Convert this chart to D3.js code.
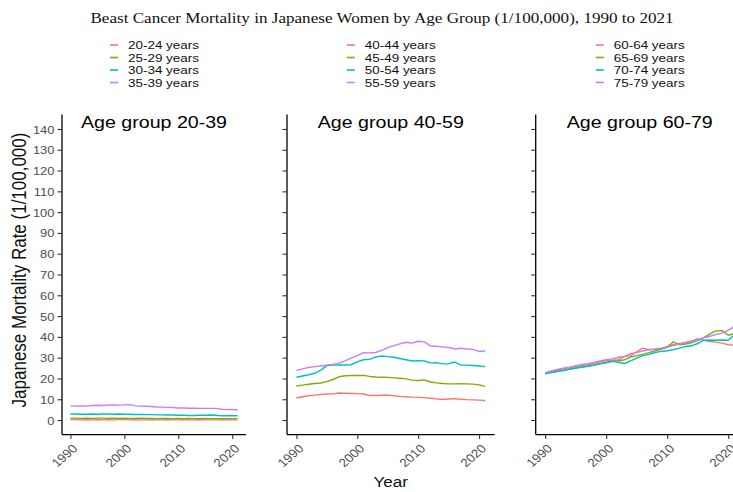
<!DOCTYPE html>
<html>
<head>
<meta charset="utf-8">
<script src="https://cdn.jsdelivr.net/npm/d3@7/dist/d3.min.js"></script>
<style>
html,body{margin:0;padding:0;background:#fff;}
svg{display:block;}
</style>
</head>
<body>
<svg id="chart" width="733" height="492"></svg>
<script>
// ---------------- DATA ----------------
const years = [1990,1991,1992,1993,1994,1995,1996,1997,1998,1999,2000,2001,2002,2003,2004,2005,
               2006,2007,2008,2009,2010,2011,2012,2013,2014,2015,2016,2017,2018,2019,2020,2021];

const chartTitle = "Beast Cancer Mortality in Japanese Women by Age Group (1/100,000), 1990 to 2021";
const panelTitles = ["Age group 20-39", "Age group 40-59", "Age group 60-79"];
const yAxisTitle = "Japanese Mortality Rate (1/100,000)";
const xAxisTitle = "Year";
const yTicks = [0,10,20,30,40,50,60,70,80,90,100,110,120,130,140];
const xTicks = [1990,2000,2010,2020];
const seriesColors = ["#F8766D","#7CAE00","#00BFC4","#C77CFF"];

// Age group 20-39
const labels20_39 = ["20-24 years","25-29 years","30-34 years","35-39 years"];
const s20_24 = [0.2,0.2,0.1,0.2,0.1,0.2,0.1,0.2,0.1,0.2,0.2,0.1,0.2,0.1,0.1,0.2,0.1,0.1,0.2,0.1,0.1,0.2,0.1,0.1,0.2,0.1,0.1,0.1,0.2,0.1,0.1,0.1];
const s25_29 = [0.9,0.9,0.8,0.9,0.8,0.9,0.9,0.8,0.9,0.8,0.9,0.8,0.8,0.9,0.8,0.8,0.7,0.8,0.8,0.7,0.8,0.7,0.8,0.7,0.7,0.8,0.7,0.7,0.7,0.7,0.7,0.7];
const s30_34 = [2.9,2.9,2.8,2.8,2.9,2.8,2.9,2.9,2.8,2.9,2.8,2.8,2.7,2.7,2.6,2.6,2.5,2.5,2.4,2.4,2.3,2.3,2.2,2.2,2.3,2.3,2.4,2.3,2.1,2.1,2.1,2.1];
const s35_39 = [6.8,6.7,6.8,6.7,7.0,7.1,7.0,7.2,7.3,7.2,7.3,7.4,6.8,6.7,6.6,6.5,6.3,6.2,6.1,6.0,5.8,5.8,5.7,5.7,5.6,5.6,5.6,5.6,5.2,5.0,5.1,4.8];

// Age group 40-59
const labels40_59 = ["40-44 years","45-49 years","50-54 years","55-59 years"];
const s40_44 = [10.6,11.2,11.7,12.0,12.3,12.5,12.6,13.0,12.9,12.8,12.7,12.5,11.8,11.8,11.9,12.0,11.7,11.4,11.2,11.0,10.9,10.8,10.5,10.2,9.9,10.1,10.3,10.0,9.8,9.7,9.6,9.4];
const s45_49 = [16.4,16.8,17.2,17.6,17.8,18.5,19.5,20.8,21.3,21.4,21.4,21.5,21.0,20.7,20.6,20.5,20.3,20.1,19.8,19.2,19.0,19.3,18.3,17.9,17.6,17.4,17.4,17.5,17.4,17.3,16.9,16.2];
const s50_54 = [20.6,21.2,21.8,22.5,24.0,26.2,26.4,26.5,26.5,26.6,28.0,29.0,29.2,30.3,30.8,30.5,30.2,29.6,29.0,28.4,28.6,28.4,27.5,27.6,27.0,27.1,27.9,26.4,26.4,26.2,26.0,25.7];
const s55_59 = [23.8,24.6,25.3,25.7,26.0,26.4,26.7,27.4,28.5,29.8,31.0,32.4,32.3,32.5,33.5,34.8,35.8,36.6,37.4,37.0,37.9,37.6,35.6,35.5,35.2,34.9,34.2,34.5,34.2,34.0,33.0,33.2];

// Age group 60-79
const labels60_79 = ["60-64 years","65-69 years","70-74 years","75-79 years"];
const s60_64 = [22.5,23.3,24.0,24.6,25.2,25.8,26.2,26.6,27.3,28.0,28.6,28.8,29.0,30.5,31.0,32.8,34.6,33.8,34.0,34.3,35.4,36.2,36.8,37.2,37.8,39.1,38.3,37.8,37.5,37.0,36.2,36.0];
const s65_69 = [22.3,23.0,23.6,24.0,24.6,25.2,25.6,26.0,26.5,27.2,27.8,28.3,28.5,29.0,30.3,31.0,31.6,32.4,33.3,34.0,35.0,37.6,36.2,36.6,37.2,38.2,39.6,41.4,42.9,43.0,40.8,41.5];
const s70_74 = [22.2,22.8,23.3,23.8,24.4,24.9,25.4,25.8,26.4,27.0,27.5,28.2,27.8,27.2,28.5,29.8,31.0,31.6,32.5,33.0,33.3,33.8,34.6,35.4,35.7,36.8,38.4,38.5,38.4,38.5,38.4,41.0];
const s75_79 = [22.7,23.6,24.3,25.0,25.4,26.1,26.7,27.1,27.7,28.4,29.0,29.4,30.2,30.6,31.9,32.4,33.2,33.9,34.2,34.6,35.0,35.8,36.5,37.3,38.0,38.6,39.6,40.3,41.2,41.8,43.3,44.9];

// ---------------- LAYOUT ----------------
const svg = d3.select("#chart");
const SX = 1.14;                 // horizontal stretch of the original rendering
const sans = "Arial, 'Liberation Sans', Helvetica, sans-serif";
const axisGray = "#4d4d4d";

const panels = [
  {title: panelTitles[0], labels: labels20_39, series: [s20_24,s25_29,s30_34,s35_39], x0: 62,    x1: 246,   yLabels: true},
  {title: panelTitles[1], labels: labels40_59, series: [s40_44,s45_49,s50_54,s55_59], x0: 287,   x1: 494.6, yLabels: false},
  {title: panelTitles[2], labels: labels60_79, series: [s60_64,s65_69,s70_74,s75_79], x0: 535.7, x1: 743.8, yLabels: false}
];

const y = d3.scaleLinear().domain([-7, 147]).range([434.6, 114.4]);
const yBottom = y.range()[0];

function stretchText(sel, x, y0, rot) {
  sel.attr("transform", `translate(${x},${y0}) scale(${SX},1)` + (rot ? ` rotate(${rot})` : ""));
  return sel;
}

// main title
stretchText(svg.append("text"), 382, 23)
  .attr("text-anchor", "middle")
  .style("font-family", "'Liberation Serif', 'Times New Roman', serif")
  .style("font-size", "15px")
  .attr("fill", "#111")
  .text(chartTitle);

panels.forEach((p, pi) => {
  const x = d3.scaleLinear().domain([1990 - 1.55, 2021 + 1.55]).range([p.x0, p.x1]);
  const g = svg.append("g");
  const cx = (p.x0 + p.x1) / 2;

  // lines
  const line = d3.line().x((d, i) => x(years[i])).y(d => y(d));
  p.series.forEach((s, si) => {
    g.append("path").datum(s)
      .attr("d", line)
      .attr("fill", "none")
      .attr("stroke", seriesColors[si])
      .attr("stroke-width", 1.4)
      .attr("stroke-linejoin", "round");
  });

  // y axis
  const ya = g.append("g").attr("transform", `translate(${p.x0},0)`)
    .call(d3.axisLeft(y).tickValues(yTicks).tickSize(4.5).tickPadding(2).tickSizeOuter(0));
  ya.select(".domain").attr("stroke", "#000").attr("stroke-width", 1.3)
    .attr("d", `M0,${y.range()[1]}V${yBottom}`);
  ya.selectAll(".tick line").attr("stroke", "#333").attr("stroke-width", 1.1);
  if (p.yLabels) {
    ya.selectAll(".tick text")
      .attr("x", null).attr("dy", null)
      .attr("transform", `translate(-7.6,0) scale(${SX},1)`)
      .attr("dy", "0.36em")
      .attr("fill", axisGray)
      .style("font-family", sans).style("font-size", "11.3px");
  } else {
    ya.selectAll(".tick text").remove();
  }

  // x axis
  const xa = g.append("g").attr("transform", `translate(0,${yBottom})`)
    .call(d3.axisBottom(x).tickValues(xTicks).tickSize(4.5).tickSizeOuter(0).tickFormat(d3.format("d")));
  xa.select(".domain").attr("stroke", "#000").attr("stroke-width", 1.3)
    .attr("d", `M${p.x0},0H${p.x1}`);
  xa.selectAll(".tick line").attr("stroke", "#333").attr("stroke-width", 1.1);
  xa.selectAll(".tick text")
    .attr("y", null).attr("dy", null)
    .attr("text-anchor", "end")
    .attr("transform", `translate(7.5,14.7) scale(${SX},1) rotate(-45)`)
    .attr("fill", axisGray)
    .style("font-family", sans).style("font-size", "11.8px");

  // panel title
  stretchText(g.append("text"), cx, 128.3)
    .attr("text-anchor", "middle")
    .style("font-family", sans).style("font-size", "17.2px")
    .attr("fill", "#000")
    .text(p.title);

  // legend
  const L = cx - 44;
  const rowY = [45, 57.5, 70, 82.5];
  p.labels.forEach((lab, li) => {
    g.append("line")
      .attr("x1", L).attr("x2", L + 8)
      .attr("y1", rowY[li]).attr("y2", rowY[li])
      .attr("stroke", seriesColors[li]).attr("stroke-width", 1.6);
    stretchText(g.append("text"), L + 18, rowY[li])
      .attr("dy", "0.36em")
      .style("font-family", sans).style("font-size", "11.8px")
      .attr("fill", "#111")
      .text(lab);
  });

  if (pi === 1) {
    stretchText(g.append("text"), cx, 487)
      .attr("text-anchor", "middle")
      .style("font-family", sans).style("font-size", "15px")
      .attr("fill", "#111")
      .text(xAxisTitle);
  }
});

// y axis title
stretchText(svg.append("text"), 25.5, 270, -90)
  .attr("text-anchor", "middle")
  .style("font-family", sans).style("font-size", "17px")
  .attr("fill", "#111")
  .text(yAxisTitle);
</script>
</body>
</html>
